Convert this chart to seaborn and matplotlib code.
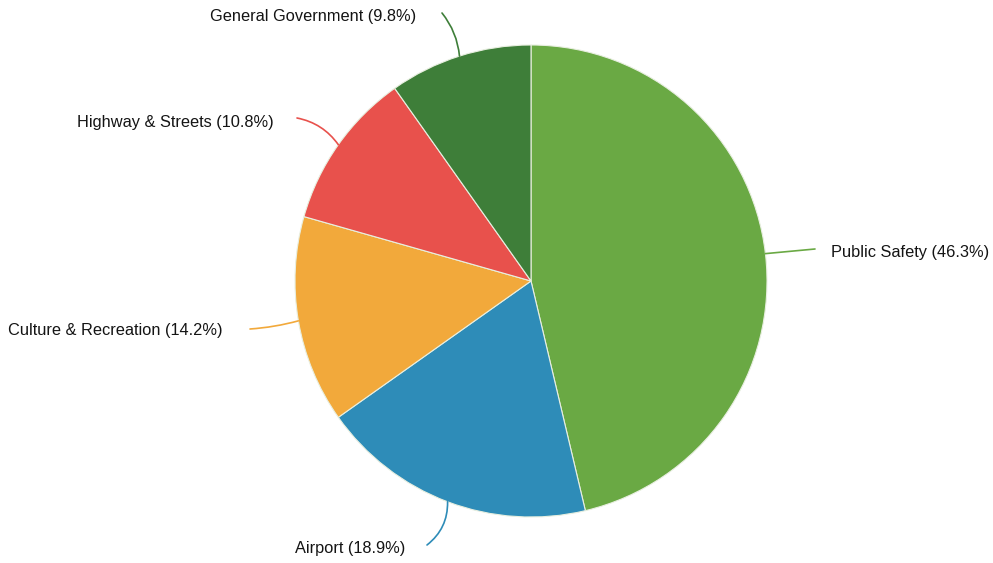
import matplotlib
matplotlib.use("Agg")
import matplotlib.pyplot as plt
import numpy as np
import seaborn as sns
from matplotlib.patches import FancyArrowPatch

categories = ["Public Safety", "Airport", "Culture & Recreation",
              "Highway & Streets", "General Government"]
shares = [46.3, 18.9, 14.2, 10.8, 9.8]
colors = ["#6aa944", "#2e8cb8", "#f2a93b", "#e8514c", "#3e7e39"]

# label anchor (left edge, vertical middle) and leader-line curvature per slice, in pixels
label_pos = [(831, 252), (295, 548), (8, 331), (77, 123), (210, 17)]
leader_start = [(815, 249), (427, 545), (250, 329), (297, 118), (442, 13)]
leader_rad = [0.0, 0.25, 0.05, -0.2, -0.15]

W, H = 993, 563
CX, CY, R = 531, 281, 236

sns.set_theme(style="white")
plt.rcParams["font.family"] = ["Liberation Sans", "DejaVu Sans"]

fig = plt.figure(figsize=(W / 100, H / 100), dpi=100)
ax = fig.add_axes([(CX - R) / W, (H - CY - R) / H, 2 * R / W, 2 * R / H])

wedges, _ = ax.pie(shares, colors=sns.color_palette(colors), startangle=90,
                   counterclock=False, radius=1,
                   wedgeprops=dict(edgecolor="#e8efe0", linewidth=0.8))
ax.set_xlim(-1, 1)
ax.set_ylim(-1, 1)
ax.axis("off")


def to_data(px, py):
    return (px - CX) / R, (CY - py) / R


cum = 0.0
for name, val, col, lp, ls, rad in zip(categories, shares, colors,
                                        label_pos, leader_start, leader_rad):
    mid = np.deg2rad(90 - (cum + val / 2) * 3.6)
    cum += val
    edge = (np.cos(mid), np.sin(mid))
    start = to_data(*ls)
    line = FancyArrowPatch(start, edge, arrowstyle="-",
                           connectionstyle=f"arc3,rad={rad}",
                           color=col, lw=1.2, clip_on=False,
                           shrinkA=0, shrinkB=0)
    ax.add_patch(line)
    tx, ty = to_data(*lp)
    ax.text(tx, ty, f"{name} ({val}%)", ha="left", va="center",
            fontsize=11.8, color="#141414", clip_on=False)

fig.savefig("out.png", dpi=100, facecolor="white")
